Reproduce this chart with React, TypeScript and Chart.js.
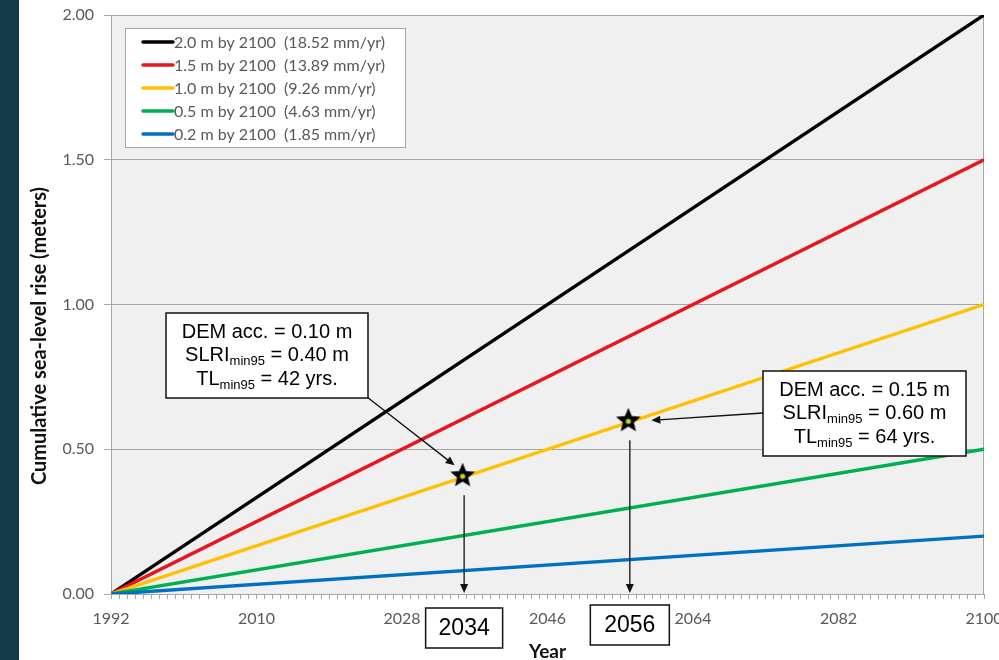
import React, { useEffect, useRef } from 'react';
import { Chart, registerables } from 'chart.js';

Chart.register(...registerables);

// ---- data ----
const years = [1992, 2100];
const seriesLabels = [
  '2.0 m by 2100  (18.52 mm/yr)',
  '1.5 m by 2100  (13.89 mm/yr)',
  '1.0 m by 2100  (9.26 mm/yr)',
  '0.5 m by 2100  (4.63 mm/yr)',
  '0.2 m by 2100  (1.85 mm/yr)',
];
const rise20 = [0, 2.0];
const rise15 = [0, 1.5];
const rise10 = [0, 1.0];
const rise05 = [0, 0.5];
const rise02 = [0, 0.2];
const seriesColors = ['#000000', '#e8161e', '#ffc000', '#00b050', '#0070c0'];

const starYears = [2035.5, 2056];
const starValues = [0.41, 0.6];
const starYearLabels = ['2034', '2056'];
const noteDem = ['0.10', '0.15'];
const noteSlri = ['0.40', '0.60'];
const noteTl = ['42', '64'];

const yTickValues = [0, 0.5, 1.0, 1.5, 2.0];
const xTickYears = [1992, 2010, 2028, 2046, 2064, 2082, 2100];

const xTitle = 'Year';
const yTitle = 'Cumulative sea-level rise (meters)';

const FAMILY = 'Lato, "Open Sans", sans-serif';
const TICK_FONT = { family: FAMILY, size: 16 };
const TICK_COLOR = '#595959';
const GRID_COLOR = '#a6a6a6';

function drawArrow(ctx: CanvasRenderingContext2D, x1: number, y1: number, x2: number, y2: number) {
  const head = 9;
  const half = 4;
  const ang = Math.atan2(y2 - y1, x2 - x1);
  const c = Math.cos(ang);
  const s = Math.sin(ang);
  ctx.beginPath();
  ctx.moveTo(x1, y1);
  ctx.lineTo(x2 - c * head * 0.8, y2 - s * head * 0.8);
  ctx.stroke();
  ctx.beginPath();
  ctx.moveTo(x2, y2);
  ctx.lineTo(x2 - c * head + s * half, y2 - s * head - c * half);
  ctx.lineTo(x2 - c * head - s * half, y2 - s * head + c * half);
  ctx.closePath();
  ctx.fill();
}

type Seg = { t: string; sub?: boolean };

function drawNote(ctx: CanvasRenderingContext2D, x: number, y: number, w: number, h: number, lines: Seg[][]) {
  ctx.save();
  ctx.fillStyle = '#ffffff';
  ctx.fillRect(x, y, w, h);
  ctx.strokeStyle = '#111';
  ctx.lineWidth = 1.5;
  ctx.strokeRect(x, y, w, h);
  const main = '20px "Liberation Sans", Arial, sans-serif';
  const sub = '13px "Liberation Sans", Arial, sans-serif';
  const rowOffsets = [25, 48, 72];
  ctx.fillStyle = '#000';
  ctx.textBaseline = 'alphabetic';
  ctx.textAlign = 'left';
  lines.forEach((segs, i) => {
    let total = 0;
    segs.forEach((sg) => {
      ctx.font = sg.sub ? sub : main;
      total += ctx.measureText(sg.t).width;
    });
    let cx = x + w / 2 - total / 2;
    const by = y + rowOffsets[i];
    segs.forEach((sg) => {
      ctx.font = sg.sub ? sub : main;
      ctx.fillText(sg.t, cx, sg.sub ? by + 4 : by);
      cx += ctx.measureText(sg.t).width;
    });
  });
  ctx.restore();
}

function makeStar(): HTMLCanvasElement {
  const c = document.createElement('canvas');
  c.width = 30;
  c.height = 30;
  const g = c.getContext('2d')!;
  const cx = 15, cy = 15.5;
  g.beginPath();
  for (let i = 0; i < 10; i++) {
    const r = i % 2 === 0 ? 13 : 5.8;
    const a = -Math.PI / 2 + (i * Math.PI) / 5;
    const px = cx + r * Math.cos(a);
    const py = cy + r * Math.sin(a);
    if (i === 0) g.moveTo(px, py);
    else g.lineTo(px, py);
  }
  g.closePath();
  g.fillStyle = '#000';
  g.fill();
  g.beginPath();
  g.arc(cx, cy + 0.5, 2.6, 0, Math.PI * 2);
  g.fillStyle = '#c6d21a';
  g.fill();
  return c;
}

const decorPlugin = {
  id: 'decor',
  beforeDraw(chart: any) {
    const { ctx, chartArea: a } = chart;
    ctx.save();
    ctx.fillStyle = '#f0f0f0';
    ctx.fillRect(a.left, a.top, a.right - a.left, a.bottom - a.top);
    ctx.restore();
  },
  beforeDatasetsDraw(chart: any) {
    const { ctx, chartArea: a } = chart;
    ctx.save();
    ctx.strokeStyle = GRID_COLOR;
    ctx.lineWidth = 1;
    ctx.beginPath();
    ctx.moveTo(a.left, a.top + 0.5);
    ctx.lineTo(a.right - 0.5, a.top + 0.5);
    ctx.lineTo(a.right - 0.5, a.bottom);
    ctx.stroke();
    ctx.restore();
  },
  afterDraw(chart: any) {
    const { ctx, chartArea: a } = chart;
    const xs = chart.scales.x;
    const ys = chart.scales.y;

    // legend
    ctx.save();
    const lx = 125, ly = 28, lw = 280, lh = 119;
    ctx.fillStyle = '#ffffff';
    ctx.fillRect(lx, ly, lw, lh);
    ctx.strokeStyle = GRID_COLOR;
    ctx.lineWidth = 1;
    ctx.strokeRect(lx + 0.5, ly + 0.5, lw, lh);
    const items = chart.data.datasets.filter((d: any) => !d.isMarker);
    ctx.font = `16px ${FAMILY}`;
    ctx.textBaseline = 'middle';
    ctx.textAlign = 'left';
    items.forEach((d: any, i: number) => {
      const ry = ly + 14 + i * 23;
      ctx.strokeStyle = d.borderColor;
      ctx.lineWidth = 3.5;
      ctx.lineCap = 'round';
      ctx.beginPath();
      ctx.moveTo(143, ry);
      ctx.lineTo(173, ry);
      ctx.stroke();
      ctx.fillStyle = TICK_COLOR;
      ctx.fillText(d.label, 174, ry + 0.5);
    });
    ctx.restore();

    // y-axis title
    ctx.save();
    ctx.translate(40, 336);
    ctx.rotate(-Math.PI / 2);
    ctx.font = `bold 20px ${FAMILY}`;
    ctx.fillStyle = '#111';
    ctx.textAlign = 'center';
    ctx.textBaseline = 'middle';
    ctx.fillText(yTitle, 0, 0);
    ctx.restore();

    // star positions
    const pts = starYears.map((yr, i) => ({ x: xs.getPixelForValue(yr), y: ys.getPixelForValue(starValues[i]) }));

    ctx.save();
    ctx.strokeStyle = '#111';
    ctx.fillStyle = '#111';
    ctx.lineWidth = 1.3;
    pts.forEach((p) => {
      drawArrow(ctx, p.x + 1.5, p.y + 20, p.x + 1.5, a.bottom - 1);
    });
    drawArrow(ctx, 367, 397, pts[0].x - 8, pts[0].y - 10);
    drawArrow(ctx, 763, 413, pts[1].x + 23, pts[1].y);
    ctx.restore();

    // notes
    const mk = (i: number): Seg[][] => [
      [{ t: `DEM acc. = ${noteDem[i]} m` }],
      [{ t: 'SLRI' }, { t: 'min95', sub: true }, { t: ` = ${noteSlri[i]} m` }],
      [{ t: 'TL' }, { t: 'min95', sub: true }, { t: ` = ${noteTl[i]} yrs.` }],
    ];
    drawNote(ctx, 166, 313, 202, 85, mk(0));
    drawNote(ctx, 763, 371, 203, 85, mk(1));

    // year boxes
    const boxTops = [608, 605];
    const boxW = [77, 79];
    ctx.save();
    pts.forEach((p, i) => {
      const w = boxW[i];
      const h = 40;
      const bx = p.x + 1.5 - w / 2;
      const by = boxTops[i];
      ctx.fillStyle = '#fff';
      ctx.fillRect(bx, by, w, h);
      ctx.strokeStyle = '#111';
      ctx.lineWidth = 1.5;
      ctx.strokeRect(bx, by, w, h);
      ctx.fillStyle = '#000';
      ctx.font = '23px "Liberation Sans", Arial, sans-serif';
      ctx.textAlign = 'center';
      ctx.textBaseline = 'middle';
      ctx.fillText(starYearLabels[i], bx + w / 2, by + h / 2 + 1);
    });
    ctx.restore();
  },
};

export default function App() {
  const ref = useRef<HTMLCanvasElement>(null);

  useEffect(() => {
    const star = makeStar();
    const seriesValues = [rise20, rise15, rise10, rise05, rise02];
    const lineSets = seriesValues.map((vals, i) => ({
      label: seriesLabels[i],
      data: vals.map((v, j) => ({ x: years[j], y: v })),
      borderColor: seriesColors[i],
      backgroundColor: seriesColors[i],
      borderWidth: 3.4,
      pointRadius: 0,
      fill: false,
      tension: 0,
      order: 5 - i,
    }));
    const markerSet = {
      label: '',
      isMarker: true,
      data: starYears.map((yr, i) => ({ x: yr, y: starValues[i] })),
      showLine: false,
      pointStyle: star,
      pointRadius: 13,
      borderColor: '#000',
      backgroundColor: '#000',
      order: -1,
    };

    const chart = new Chart(ref.current!, {
      type: 'line',
      data: { datasets: [markerSet as any, ...lineSets] },
      options: {
        animation: false,
        responsive: false,
        devicePixelRatio: 1,
        layout: { padding: { left: 20, top: 15, right: 15, bottom: 0 } },
        plugins: { legend: { display: false }, tooltip: { enabled: false } },
        scales: {
          x: {
            type: 'linear',
            min: years[0],
            max: years[years.length - 1],
            afterFit: (s: any) => {
              s.height = 66;
              s.paddingLeft = 0;
              s.paddingRight = 0;
            },
            ticks: {
              stepSize: 1,
              autoSkip: false,
              maxRotation: 0,
              minRotation: 0,
              padding: 10,
              color: TICK_COLOR,
              font: TICK_FONT,
              callback: (v: any) => (xTickYears.includes(Number(v)) ? String(v) : ''),
            },
            grid: { drawOnChartArea: false, drawTicks: true, tickLength: 5, color: GRID_COLOR },
            border: { display: true, color: GRID_COLOR },
            title: {
              display: true,
              text: xTitle,
              color: '#111',
              font: { family: FAMILY, size: 19, weight: 'bold', lineHeight: 0.85 },
              padding: { top: 0, bottom: 0 },
            },
          },
          y: {
            type: 'linear',
            min: yTickValues[0],
            max: yTickValues[yTickValues.length - 1],
            afterFit: (s: any) => {
              s.width = 91;
              s.paddingTop = 0;
              s.paddingBottom = 0;
            },
            afterBuildTicks: (s: any) => {
              s.ticks = yTickValues.map((v) => ({ value: v }));
            },
            ticks: {
              padding: 10,
              color: TICK_COLOR,
              font: TICK_FONT,
              callback: (v: any) => Number(v).toFixed(2),
            },
            grid: { color: GRID_COLOR, tickLength: 7, drawTicks: true },
            border: { display: true, color: GRID_COLOR },
          },
        },
      },
      plugins: [decorPlugin],
    } as any);
    return () => chart.destroy();
  }, []);

  return (
    <div style={{ position: 'fixed', left: 0, top: 0, width: 999, height: 660, background: '#ffffff' }}>
      <div style={{ position: 'absolute', left: 0, top: 0, width: 19, height: 660, background: '#133b48' }} />
      <div style={{ position: 'absolute', left: 0, top: 0, width: 999, height: 660 }}>
        <canvas ref={ref} width={999} height={660} style={{ display: 'block' }} />
      </div>
    </div>
  );
}
